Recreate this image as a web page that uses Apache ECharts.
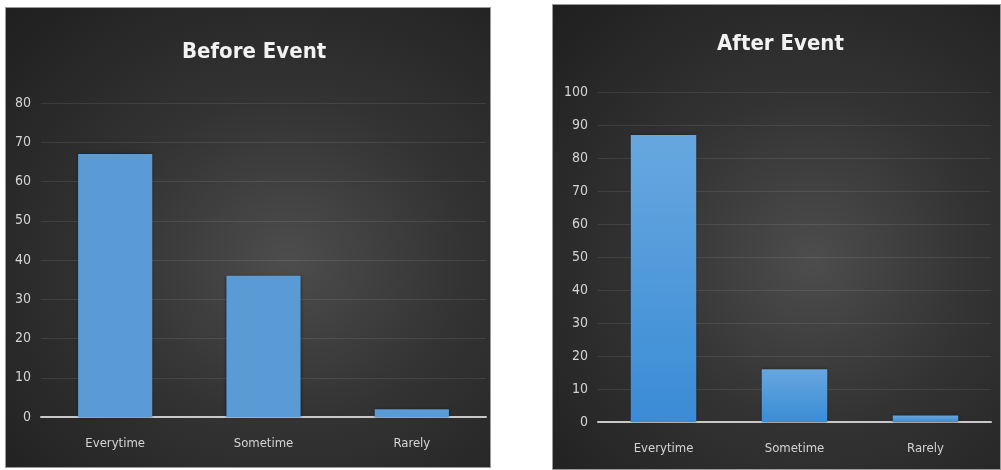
<!DOCTYPE html>
<html>
<head>
<meta charset="utf-8">
<script src="https://cdn.jsdelivr.net/npm/echarts@6/dist/echarts.min.js"></script>
<style>
  html, body { margin: 0; padding: 0; background: #ffffff; }
  body { width: 1001px; height: 470px; position: relative; overflow: hidden; }
  .panel {
    position: absolute;
    background: radial-gradient(ellipse at 58% 55%, #4d4d4d 0%, #333333 45%, #1f1f1f 100%);
    border: 1px solid #9a9a9a;
    box-sizing: border-box;
  }
  #before { left: 5px; top: 7px; width: 486px; height: 461px; }
  #after { left: 552px; top: 4px; width: 449px; height: 466px; }
</style>
</head>
<body>
<div id="before" class="panel"></div>
<div id="after" class="panel"></div>
<script>
const categories = ['Everytime', 'Sometime', 'Rarely'];
const beforeValues = [67, 36, 2];
const afterValues = [87, 16, 2];

const labelFont = '"DejaVu Sans Condensed", "Liberation Sans Narrow", Lato, sans-serif';

function makeOption(title, values, yMax, grid, titlePos, barColor) {
  return {
    animation: false,
    title: {
      text: title,
      left: titlePos.x,
      top: titlePos.y,
      textStyle: {
        color: '#f2f2f2',
        fontFamily: labelFont,
        fontWeight: 'bold',
        fontSize: 22,
      },
    },
    grid: grid,
    xAxis: {
      type: 'category',
      data: categories,
      axisTick: { show: false },
      axisLine: {
        lineStyle: { color: '#c8c8c8', width: 2 },
      },
      axisLabel: {
        color: '#d4d4d4',
        fontFamily: labelFont,
        fontSize: 13,
        margin: 20,
      },
    },
    yAxis: {
      type: 'value',
      min: 0,
      max: yMax,
      interval: 10,
      axisLine: { show: false },
      axisTick: { show: false },
      axisLabel: {
        color: '#d4d4d4',
        fontFamily: labelFont,
        fontSize: 14,
        margin: 10,
      },
      splitLine: {
        lineStyle: { color: 'rgba(255,255,255,0.09)', width: 1 },
      },
    },
    series: [
      {
        type: 'bar',
        data: values,
        barWidth: '50%',
        itemStyle: {
          color: barColor,
          shadowColor: 'rgba(0,0,0,0.5)',
          shadowBlur: 3,
        },
      },
    ],
  };
}

const beforeChart = echarts.init(document.getElementById('before'));
beforeChart.setOption(
  makeOption(
    'Before Event',
    beforeValues,
    80,
    { left: 35, right: 4, top: 95, bottom: 50 },
    { x: 171, y: 28 },
    '#5b9bd5'
  )
);

const afterChart = echarts.init(document.getElementById('after'));
afterChart.setOption(
  makeOption(
    'After Event',
    afterValues,
    100,
    { left: 45, right: 9, top: 87, bottom: 47 },
    { x: 159, y: 23 },
    new echarts.graphic.LinearGradient(0, 0, 0, 1, [
      { offset: 0, color: '#67a7df' },
      { offset: 1, color: '#3a8cd6' },
    ])
  )
);
</script>
</body>
</html>
